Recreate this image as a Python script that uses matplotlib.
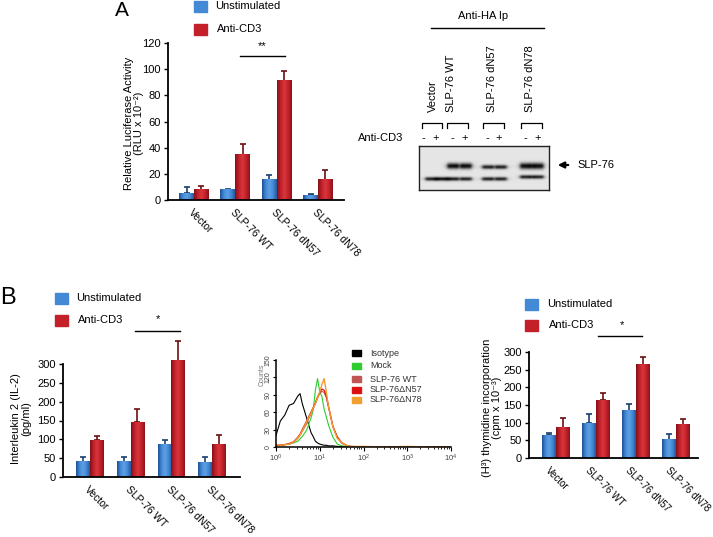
import numpy as np
import matplotlib
matplotlib.use("Agg")
import matplotlib.pyplot as plt
from matplotlib.lines import Line2D
from matplotlib.patches import Rectangle, FancyArrowPatch
from matplotlib.colors import LinearSegmentedColormap
from matplotlib.transforms import ScaledTranslation

plt.rcParams['font.family'] = ['Liberation Sans', 'DejaVu Sans']
plt.rcParams['font.size'] = 8

W, H = 713, 537

# ---- data ----
groups = ["Vector", "SLP-76 WT", "SLP-76 dN57", "SLP-76 dN78"]

# A: luciferase (RLU x 10^-2)
luc_unstim = [5, 7.7, 15.4, 3.8]
luc_unstim_err = [4.7, 0.5, 3.8, 0.6]
luc_cd3 = [7.7, 34.4, 91, 15.4]
luc_cd3_err = [3.1, 8.4, 7.7, 7.2]

# B: IL-2 (pg/ml)
il2_unstim = [40, 40, 86, 38]
il2_unstim_err = [12, 12, 12, 14]
il2_cd3 = [98, 145, 309, 86]
il2_cd3_err = [12, 35, 51, 25]

# B: thymidine incorporation (cpm x 10^-3)
thy_unstim = [64, 98, 134, 52]
thy_unstim_err = [8, 27, 19, 15]
thy_cd3 = [86, 164, 264, 94]
thy_cd3_err = [28, 21, 22, 17]

# flow histogram (log10 of fluorescence, counts)
hist_log = [0.0, 0.1, 0.2, 0.3, 0.4, 0.5, 0.55, 0.6, 0.7, 0.8, 0.85, 0.9, 0.95, 1.0,
            1.05, 1.1, 1.15, 1.2, 1.3, 1.4, 1.5, 1.6, 1.7, 2.0, 2.5, 3.0, 3.5, 4.0]
hist_isotype = [20, 45, 55, 72, 75, 88, 92, 75, 50, 25, 18, 10, 7, 5, 4, 3, 3, 2, 2, 1, 1, 0, 0, 0, 0, 0, 0, 0]
hist_mock = [2, 3, 4, 5, 7, 10, 14, 18, 29, 50, 64, 98, 118, 95, 87, 65, 52, 38, 17, 5, 2, 1, 0, 0, 0, 0, 0, 0]
hist_wt = [3, 3, 4, 5, 8, 15, 20, 27, 40, 58, 66, 75, 85, 92, 96, 94, 85, 69, 35, 18, 8, 3, 1, 0, 0, 0, 0, 0]
hist_n57 = [3, 3, 4, 6, 9, 17, 22, 30, 45, 60, 68, 76, 86, 94, 100, 98, 88, 70, 36, 17, 7, 3, 1, 0, 0, 0, 0, 0]
hist_n78 = [4, 3, 4, 5, 8, 16, 21, 28, 44, 58, 67, 75, 84, 95, 108, 118, 95, 69, 35, 15, 8, 3, 1, 1, 0, 1, 0, 0]
hist_names = ["Isotype", "Mock", "SLP-76 WT", "SLP-76\u0394N57", "SLP-76\u0394N78"]

# western blot: band strength per lane (Vector -,+ / WT -,+ / dN57 -,+ / dN78 -,+)
blot_upper = [0, 0, 1.0, 1.0, 0.9, 0.9, 1.0, 1.0]
blot_lower = [0.9, 0.95, 0.9, 0.9, 0.9, 0.9, 0.9, 0.9]
blot_signs = ["-", "+", "-", "+", "-", "+", "-", "+"]

BLUE = '#4389d6'
RED = '#c4202a'
blue_cmap = LinearSegmentedColormap.from_list('b', ['#1d4f95', '#4389d6', '#5fa0e4', '#4389d6', '#24589e'])
red_cmap = LinearSegmentedColormap.from_list('r', ['#80121a', '#c4202a', '#d6373d', '#c4202a', '#8a141a'])
grad = np.linspace(0, 1, 64)[np.newaxis, :]

fig = plt.figure(figsize=(W / 100, H / 100), dpi=100)


def px_axes(x0, y0, x1, y1):
    return fig.add_axes([x0 / W, 1 - y1 / H, (x1 - x0) / W, (y1 - y0) / H])


def ftext(x, y, s, **kw):
    return fig.text(x / W, 1 - y / H, s, **kw)


def fline(xs, ys, **kw):
    fig.add_artist(Line2D([x / W for x in xs], [1 - y / H for y in ys],
                          transform=fig.transFigure, **kw))


def fbox(x, y, w, h, color):
    fig.add_artist(Rectangle((x / W, 1 - (y + h) / H), w / W, h / H,
                             transform=fig.transFigure, color=color))


def bar_panel(ax, unstim, unstim_err, cd3, cd3_err, width, xlim, ylim, yticks,
              xlab_size=7.5, xlab_shift=0):
    xs = np.arange(len(groups))
    for vals, errs, off, cmap, ecol in [(unstim, unstim_err, -width / 2, blue_cmap, '#1d3f70'),
                                         (cd3, cd3_err, width / 2, red_cmap, '#6a0f12')]:
        for xi, v in zip(xs, vals):
            x0 = xi + off - width / 2
            im = ax.imshow(grad, cmap=cmap, extent=(x0, x0 + width, 0, v),
                           aspect='auto', zorder=2)
            im.set_clip_on(False)
        eb = ax.errorbar(xs + off, vals, yerr=[np.zeros(len(vals)), errs], fmt='none',
                         ecolor=ecol, elinewidth=1.2, capsize=2.5, capthick=1.2, zorder=1)
        for art in list(eb[1]) + list(eb[2]):
            art.set_clip_on(False)
    ax.set_xlim(*xlim)
    ax.set_ylim(*ylim)
    ax.set_yticks(yticks)
    ax.set_xticks(xs)
    ax.set_xticklabels(groups, rotation=-45, ha='left', va='top', rotation_mode='anchor')
    ax.tick_params(axis='x', length=0, pad=5, labelsize=xlab_size)
    ax.tick_params(axis='y', length=3, width=1, pad=2, labelsize=8)
    if xlab_shift:
        shift = ScaledTranslation(xlab_shift / 100, 0, fig.dpi_scale_trans)
        for lab in ax.get_xticklabels():
            lab.set_transform(lab.get_transform() + shift)
    for s in ['top', 'right']:
        ax.spines[s].set_visible(False)
    for s in ['left', 'bottom']:
        ax.spines[s].set_linewidth(1.3)
    ax.set_facecolor('none')


def legend_pair(x, y_blue, y_red, tx):
    fbox(x, y_blue - 5, 13, 11, BLUE)
    fbox(x, y_red - 5, 13, 11, RED)
    ftext(tx, y_blue, "Unstimulated", ha='left', va='center', fontsize=8)
    ftext(tx + 2, y_red, "Anti-CD3", ha='left', va='center', fontsize=8)


# ---- Panel A: luciferase ----
axA = px_axes(168, 43, 344, 200)
bar_panel(axA, luc_unstim, luc_unstim_err, luc_cd3, luc_cd3_err, 0.36,
          (-0.63, 3.63), (0, 120), [0, 20, 40, 60, 80, 100, 120])
ftext(122, 10, "A", ha='center', va='center', fontsize=15)
legend_pair(194, 6, 29, 215)
fline([240, 285], [56, 56], color='black', lw=1)
ftext(262, 46, "**", ha='center', va='center', fontsize=8)
ftext(134, 123, "Relative Luciferase Activity\n(RLU x 10\u207b\u00b2)", rotation=90,
      ha='center', va='center', multialignment='center', fontsize=8, linespacing=1.1)

# ---- Panel A: western blot ----
lane_x = [431, 442, 453, 466, 488, 501, 526, 538]
sign_x = [423, 436, 452, 465, 487, 499, 525, 538]
axW = px_axes(419, 146, 549, 190)
gx = np.linspace(419, 549, 390)
gy = np.linspace(146, 190, 132)
X, Y = np.meshgrid(gx, gy)
dark = np.zeros_like(X)
for i, (lx, up, lo) in enumerate(zip(lane_x, blot_upper, blot_lower)):
    grp = i // 2
    up_y, up_h = [(166, 3.0), (166, 3.0), (167, 2.1), (166, 3.2)][grp]
    lo_y = 177 if grp == 3 else 179
    shape = 1 / (1 + ((X - lx) / 6.0) ** 6)
    dark += up * shape * np.exp(-((Y - up_y) / up_h) ** 2)
    dark += lo * shape * np.exp(-((Y - lo_y) / 1.9) ** 2)
img = 0.9 - 0.85 * np.clip(dark, 0, 1)
axW.imshow(img, cmap='gray', vmin=0, vmax=1, extent=(419, 549, 190, 146), aspect='auto')
axW.set_xlim(419, 549)
axW.set_ylim(190, 146)
axW.set_xticks([])
axW.set_yticks([])
for s in axW.spines.values():
    s.set_linewidth(1.0)
    s.set_color('#222222')

for sx, sg in zip(sign_x, blot_signs):
    ftext(sx, 138, sg, ha='center', va='center', fontsize=8)
ftext(403, 138, "Anti-CD3", ha='right', va='center', fontsize=8)
for bx0, bx1 in [(422, 442), (447, 468), (483, 504), (521, 542)]:
    fline([bx0, bx0, bx1, bx1], [128, 123, 123, 128], color='black', lw=0.9)
for lx, name in zip([433, 451, 492, 530], groups):
    ftext(lx, 112, name, rotation=90, ha='center', va='bottom', fontsize=8)
ftext(483, 16, "Anti-HA Ip", ha='center', va='center', fontsize=8)
fline([431, 544], [28, 28], color='black', lw=1)
fig.add_artist(FancyArrowPatch(
    (571 / W, 1 - 165 / H), (555 / W, 1 - 165 / H), transform=fig.transFigure,
    arrowstyle='-|>', mutation_scale=9, lw=1.6, color='black'))
ftext(577, 165, "SLP-76", ha='left', va='center', fontsize=8)

# ---- Panel B: IL-2 ----
axB1 = px_axes(63, 364, 240, 477)
bar_panel(axB1, il2_unstim, il2_unstim_err, il2_cd3, il2_cd3_err, 0.33,
          (-0.66, 3.69), (0, 300), [0, 50, 100, 150, 200, 250, 300])
ftext(8, 298, "B", ha='center', va='center', fontsize=17)
legend_pair(55, 298, 320, 76)
fline([135, 180], [331, 331], color='black', lw=1)
ftext(158, 319, "*", ha='center', va='center', fontsize=8)
ftext(21, 419, "Interleukin 2 (IL-2)\n(pg/ml)", rotation=90,
      ha='center', va='center', multialignment='center', fontsize=8, linespacing=1.1)

# ---- Panel B: flow histogram ----
axH = px_axes(276, 360, 451, 447)
hx = 10 ** np.array(hist_log)
for vals, col, lw in [(hist_isotype, 'black', 0.8), (hist_mock, '#2ecc2e', 0.8),
                      (hist_wt, '#c05555', 0.8), (hist_n57, '#dd1111', 0.9),
                      (hist_n78, '#f09a30', 1.0)]:
    axH.plot(hx, vals, color=col, lw=lw)
axH.set_xscale('log')
axH.set_xlim(1, 1e4)
axH.set_ylim(0, 150)
axH.set_yticks([0, 30, 60, 90, 120, 150])
axH.tick_params(axis='y', labelsize=5, labelrotation=90, length=2, pad=1, labelcolor='#444444')
axH.tick_params(axis='x', which='major', labelsize=5.5, length=3, pad=1, labelcolor='#444444')
axH.tick_params(axis='x', which='minor', length=1.5)
for lab in axH.get_yticklabels():
    lab.set_va('center')
for s in ['top', 'right']:
    axH.spines[s].set_visible(False)
for s in ['left', 'bottom']:
    axH.spines[s].set_linewidth(1.1)
ftext(262, 375, "Counts", rotation=90, ha='center', va='center', fontsize=5, color='#777777')
for y, col, name in zip([353, 366, 379, 390, 400],
                        ['black', '#2ecc2e', '#c05555', '#dd1111', '#f0a030'], hist_names):
    fbox(352, y - 3, 9, 6, col)
    ftext(370, y, name, ha='left', va='center', fontsize=6.5, color='#333333')

# ---- Panel B: thymidine ----
axB2 = px_axes(529, 352, 698, 458)
bar_panel(axB2, thy_unstim, thy_unstim_err, thy_cd3, thy_cd3_err, 0.35,
          (-0.675, 3.55), (0, 300), [0, 50, 100, 150, 200, 250, 300],
          xlab_size=7, xlab_shift=-5)
legend_pair(525, 304, 325, 547)
fline([598, 642], [336, 336], color='black', lw=1)
ftext(622, 325, "*", ha='center', va='center', fontsize=8)
ftext(492, 408, "(H\u00b3) thymidine incorporation\n(cpm x 10\u207b\u00b3)", rotation=90,
      ha='center', va='center', multialignment='center', fontsize=8, linespacing=1.1)

fig.savefig("out.png", dpi=100)
